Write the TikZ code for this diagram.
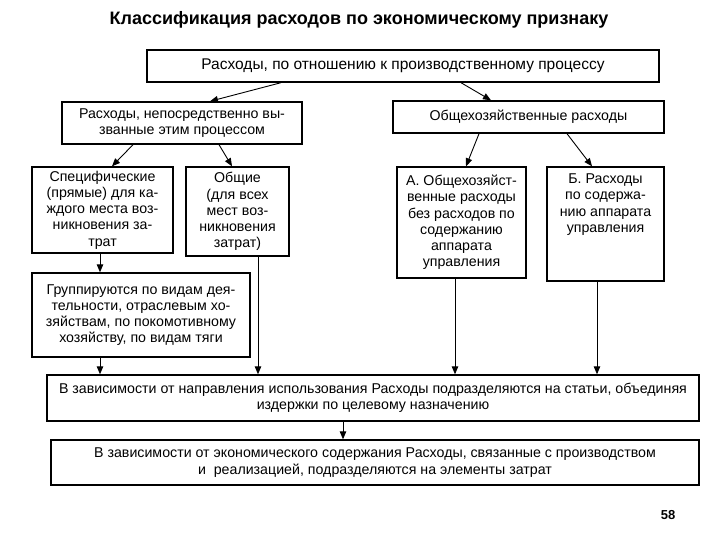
\documentclass[tikz,border=0pt]{standalone}
\usepackage{fontspec}
\setmainfont{Liberation Sans}
\usetikzlibrary{arrows.meta}
\begin{document}
\begin{tikzpicture}[x=1pt,y=-1pt,
 box/.style={draw, line width=1.4pt, inner sep=0pt, align=center, font=\fontsize{14.2}{16.2}\selectfont},
 arr/.style={line width=0.9pt, -{Triangle[length=8pt,width=6.5pt]}}]
\useasboundingbox (0,0) rectangle (720,540);
\node[font=\fontsize{18}{21}\selectfont\bfseries] (title) at (359,20) {Классификация расходов по экономическому признаку};
\node[box, minimum width=512pt, minimum height=32pt, font=\fontsize{15.5}{18}\selectfont] (top) at (403,66) {Расходы, по отношению к производственному процессу};
\node[box, minimum width=240pt, minimum height=42pt] (b2) at (182,123) {Расходы, непосредственно вы-\\званные этим процессом};
\node[box, minimum width=271pt, minimum height=32pt] (b3) at (528.5,117) {Общехозяйственные расходы};
\node[box, minimum width=141pt, minimum height=86pt] (spec) at (102.5,210) {Специфические\\(прямые) для ка-\\ждого места воз-\\никновения за-\\трат};
\node[box, minimum width=103pt, minimum height=89pt] (gen) at (237.5,211.5) {Общие\\(для всех\\мест воз-\\никновения\\затрат)};
\node[box, minimum width=129pt, minimum height=111pt] (A) at (461.5,222.5) {А. Общехозяйст-\\венные расходы\\без расходов по\\содержанию\\аппарата\\управления};
\node[box] (B) at (605.5,224) {\parbox[c][114pt][t]{117pt}{\centering\vspace*{7pt}Б. Расходы\\по содержа-\\нию аппарата\\управления}};
\node[box, minimum width=218pt, minimum height=84pt] (grp) at (141,315) {Группируются по видам дея-\\тельности, отраслевым хо-\\зяйствам, по покомотивному\\хозяйству, по видам тяги};
\node[box, minimum width=652pt, minimum height=46pt] (b5) at (373,398) {В зависимости от направления использования Расходы подразделяются на статьи, объединяя\\издержки по целевому назначению};
\node[box, minimum width=648pt, minimum height=45pt] (b6) at (375,462.5) {В зависимости от экономического содержания Расходы, связанные с производством\\и\ \ реализацией, подразделяются на элементы затрат};
\node[font=\fontsize{13}{15}\selectfont\bfseries] (page) at (668,515) {58};
\draw[arr] ([xshift=-122pt]top.south) -- ([xshift=28pt]b2.north);
\draw[arr] ([xshift=58pt]top.south) -- ([xshift=-37.5pt]b3.north);
\draw[arr] ([xshift=-49pt]b2.south) -- ([xshift=9.5pt]spec.north);
\draw[arr] ([xshift=37pt]b2.south) -- ([xshift=-5.5pt]gen.north);
\draw[arr] ([xshift=-49.5pt]b3.south) -- ([xshift=4.5pt]A.north);
\draw[arr] ([xshift=38.5pt]b3.south) -- ([xshift=-13.5pt]B.north);
\draw[arr] ([xshift=-2.5pt]spec.south) -- ([xshift=-41pt]grp.north);
\draw[arr] ([xshift=-41pt]grp.south) -- ([xshift=-273pt]b5.north);
\draw[arr] ([xshift=20.5pt]gen.south) -- ([xshift=-115pt]b5.north);
\draw[arr] ([xshift=-6.5pt]A.south) -- ([xshift=82pt]b5.north);
\draw[arr] ([xshift=-8.5pt]B.south) -- ([xshift=224pt]b5.north);
\draw[arr] ([xshift=-30pt]b5.south) -- ([xshift=-32pt]b6.north);
\end{tikzpicture}
\end{document}
